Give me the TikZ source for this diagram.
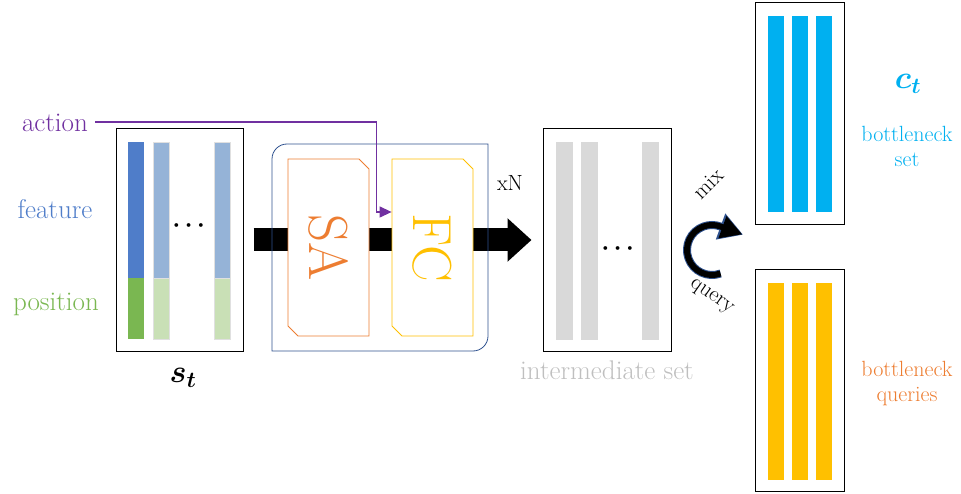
\documentclass[tikz,border=0pt]{standalone}
\usepackage{fix-cm}
\usepackage{amsmath,bm}
\usepackage{fontspec}
\usetikzlibrary{arrows.meta,shapes.misc}
\definecolor{featblue}{HTML}{4F7DC9}
\definecolor{featlight}{HTML}{95B3D7}
\definecolor{posgreen}{HTML}{7AB751}
\definecolor{poslight}{HTML}{C9E0B6}
\definecolor{actpurple}{HTML}{7030A0}
\definecolor{saorange}{HTML}{ED7D31}
\definecolor{fcyellow}{HTML}{FFC000}
\definecolor{blockblue}{HTML}{2F528F}
\definecolor{setcyan}{HTML}{00B0F0}
\definecolor{intergray}{HTML}{D9D9D9}
\definecolor{labelgray}{HTML}{BFBFBF}
\begin{document}
\begin{tikzpicture}[x=1pt,y=1pt,
    setbox/.style={draw,line width=1pt,inner sep=0pt,minimum height=222pt},
    layerbox/.style={draw,line width=0.8pt,fill=white,chamfered rectangle,
      chamfered rectangle corners={north west,south east},
      chamfered rectangle xsep=5pt,chamfered rectangle ysep=5pt,
      rotate=-90,minimum width=177pt,minimum height=81pt,inner sep=0pt,
      font=\fontsize{55}{55}\selectfont},
    lbl/.style={font=\fontsize{27}{30}\selectfont},
    rlbl/.style={font=\fontsize{22}{25}\selectfont,align=center}]
  \useasboundingbox (0,0) rectangle (961,-494);
  % sets
  \node[setbox,minimum width=127pt] (st) at (179.5,-240) {};
  \node[setbox,minimum width=128pt] (inter) at (607,-240) {};
  \node[setbox,minimum width=89pt] (cset) at (799.5,-114) {};
  \node[setbox,minimum width=89pt,minimum height=221pt] (cq) at (799.5,-380.5) {};
  % state tokens
  \fill[featblue] (128,-142) rectangle (144,-278);
  \fill[posgreen] (128,-278) rectangle (144,-339);
  \foreach \x in {153,214} {
    \filldraw[draw=black!12,fill=featlight] (\x,-142) rectangle ++(16,-136);
    \filldraw[draw=black!12,fill=poslight] (\x,-278) rectangle ++(16,-61);
  }
  \node[font=\fontsize{24}{24}\selectfont] (stdots) at (191,-226) {$\boldsymbol{\cdots}$};
  % intermediate tokens
  \foreach \x in {556,581,642} {
    \filldraw[draw=black!15,fill=intergray] (\x,-142) rectangle ++(16,-136);
    \filldraw[draw=black!15,fill=intergray] (\x,-278) rectangle ++(16,-61);
  }
  \node[font=\fontsize{24}{24}\selectfont] (interdots) at (620,-249) {$\boldsymbol{\cdots}$};
  % bottleneck tokens
  \foreach \x in {768,792,816} {
    \fill[setcyan] (\x,-16) rectangle ++(16,-196);
    \fill[fcyellow] (\x,-283) rectangle ++(16,-197);
  }
  % main flow
  \draw[line width=23pt,-{Triangle[length=24pt,width=42pt]}]
    ([xshift=10pt]st.east) -- ([xshift=-11pt]inter.west);
  \draw[blockblue,line width=0.8pt] (287,-144) -- (488,-144) -- (488,-336)
    arc[start angle=0,end angle=-90,radius=15] -- (272,-351) -- (272,-159)
    arc[start angle=180,end angle=90,radius=15] -- cycle;
  \node[layerbox,draw=saorange,text=saorange] (sa) at (328.5,-247.5) {SA};
  \node[layerbox,draw=fcyellow,text=fcyellow] (fc) at (432.5,-247.5) {FC};
  \node[font=\fontsize{22}{22}\selectfont] (rep) at (510,-183) {xN};
  % labels
  \node[lbl,text=actpurple] (action) at (55,-123) {action};
  \node[lbl,text=featblue] (feature) at (55,-209) {feature};
  \node[lbl,text=posgreen] (position) at (56,-304) {position};
  \node[font=\fontsize{32}{32}\selectfont] (stlbl) at (183,-378) {$\bm{s_t}$};
  \node[lbl,text=labelgray] (interlbl) at (607,-370) {intermediate set};
  \node[font=\fontsize{32}{32}\selectfont,text=setcyan] (ctlbl) at (908,-84) {$\bm{c_t}$};
  \node[rlbl,text=setcyan] (csetlbl) at (907,-146) {bottleneck\\set};
  \node[rlbl,text=saorange] (cqlbl) at (907,-384) {bottleneck\\queries};
  % action input
  \draw[actpurple,line width=1.3pt,-{Triangle[length=12pt,width=11pt]}]
    ([xshift=4pt,yshift=1pt]action.east) -| ([xshift=-15pt,yshift=35.5pt]fc.south) -- ([yshift=35.5pt]fc.south);
  % mix / query
  \draw[blockblue,line width=8pt,-{Triangle[length=24pt,width=26pt]}]
    (712,-250) ++(-70:25) arc[start angle=-70,end angle=-290,radius=25] -- ++(-20:24);
  \draw[black,line width=6pt,-{Triangle[length=21pt,width=22pt]}]
    (712,-250) ++(-70:25) arc[start angle=-70,end angle=-290,radius=25] -- ++(-20:23);
  \node[rlbl,rotate=45] (mix) at (708,-184) {mix};
  \node[rlbl,rotate=-35] (query) at (711,-297) {query};
\end{tikzpicture}
\end{document}
